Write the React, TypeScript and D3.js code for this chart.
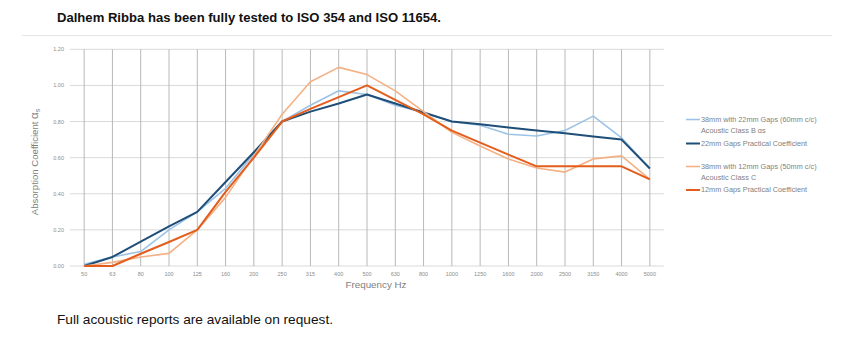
import React from 'react';
import * as d3 from 'd3';

const frequencies = ['50', '63', '80', '100', '125', '160', '200', '250', '315', '400', '500', '630', '800', '1000', '1250', '1600', '2000', '2500', '3150', '4000', '5000'];
const yTicks = [0, 0.2, 0.4, 0.6, 0.8, 1.0, 1.2];

const gaps22Tested = [0.01, 0.05, 0.08, 0.2, 0.3, 0.43, 0.62, 0.8, 0.89, 0.97, 0.95, 0.89, 0.85, 0.8, 0.78, 0.73, 0.72, 0.75, 0.83, 0.71, 0.54];
const gaps22Practical = [0, 0.05, 0.135, 0.22, 0.3, 0.465, 0.63, 0.8, 0.855, 0.9, 0.95, 0.9, 0.85, 0.8, 0.785, 0.767, 0.75, 0.735, 0.717, 0.7, 0.54];
const gaps12Tested = [0, 0.02, 0.05, 0.07, 0.2, 0.38, 0.61, 0.84, 1.02, 1.1, 1.06, 0.97, 0.855, 0.74, 0.665, 0.593, 0.543, 0.52, 0.593, 0.61, 0.48];
const gaps12Practical = [0, 0, 0.068, 0.133, 0.2, 0.41, 0.6, 0.8, 0.87, 0.935, 1.0, 0.92, 0.84, 0.75, 0.683, 0.617, 0.552, 0.552, 0.552, 0.552, 0.48];

const series = [
  { name: ['38mm with 22mm Gaps (60mm c/c)', 'Acoustic Class B αs'], values: gaps22Tested, color: '#9dc3e6', width: 1.6 },
  { name: ['22mm Gaps Practical Coefficient'], values: gaps22Practical, color: '#1f4e79', width: 2 },
  { name: ['38mm with 12mm Gaps (50mm c/c)', 'Acoustic Class C'], values: gaps12Tested, color: '#f4b183', width: 1.6 },
  { name: ['12mm Gaps Practical Coefficient'], values: gaps12Practical, color: '#e35d1c', width: 2 },
];

const legendY = [119.5, 143.5, 166.5, 190];

const font = '"Liberation Sans", Arial, sans-serif';

export default function App() {
  const x = d3.scalePoint<string>().domain(frequencies).range([70, 664]).padding(0.5);
  const y = d3.scaleLinear().domain([0, 1.2]).range([266, 49.3]);

  const line = d3.line<number>()
    .x((d, i) => x(frequencies[i]) as number)
    .y(d => y(d));

  return (
    <svg width={859} height={351} style={{ position: 'absolute', left: 0, top: 0, background: '#fff' }}>
      <text x={57} y={22} fontFamily={font} fontWeight="bold" fontSize={13.5} fill="#111"
        textLength={384} lengthAdjust="spacingAndGlyphs">
        Dalhem Ribba has been fully tested to ISO 354 and ISO 11654.
      </text>
      <line x1={22} x2={832} y1={35.5} y2={35.5} stroke="#e6e6e6" strokeWidth={1} />

      {yTicks.map(t => (
        <g key={t}>
          <line x1={70} x2={664} y1={y(t)} y2={y(t)} stroke="#d9d9d9" strokeWidth={1} />
          <text x={64} y={y(t) + 2} textAnchor="end" fontFamily={font} fontSize={5.5} fill="#8c8c8c">
            {t.toFixed(2)}
          </text>
        </g>
      ))}

      {frequencies.map(f => (
        <g key={f}>
          <line x1={x(f)} x2={x(f)} y1={y(1.2)} y2={y(0)} stroke="#b8b8b8" strokeWidth={1} />
          <text x={x(f)} y={276} textAnchor="middle" fontFamily={font} fontSize={5.5} fill="#8c8c8c">{f}</text>
        </g>
      ))}

      {series.map(s => (
        <path key={s.name[0]} d={line(s.values) || ''} fill="none" stroke={s.color} strokeWidth={s.width} strokeLinejoin="round" />
      ))}

      <text transform="translate(38,162) rotate(-90)" textAnchor="middle" fontFamily={font} fontSize={9.6} fill="#7f7f7f">
        Absorption Coefficient <tspan fontSize={11.5}>α</tspan><tspan fontSize={7} dy={2}>s</tspan>
      </text>
      <text x={376} y={288} textAnchor="middle" fontFamily={font} fontSize={9.8} fill="#7f7f7f">Frequency Hz</text>

      {series.map((s, i) => (
        <g key={'lg' + i}>
          <line x1={686} x2={700} y1={legendY[i]} y2={legendY[i]} stroke={s.color} strokeWidth={s.width} />
          {s.name.map((n, j) => (
            <text key={n} x={701} y={legendY[i] + 2.4 + j * 11} fontFamily={font} fontSize={7.3} fill="#7f7f7f">{n}</text>
          ))}
        </g>
      ))}

      <text x={57} y={324} fontFamily={font} fontSize={13} fill="#111" textLength={276} lengthAdjust="spacingAndGlyphs">
        Full acoustic reports are available on request.
      </text>
    </svg>
  );
}
